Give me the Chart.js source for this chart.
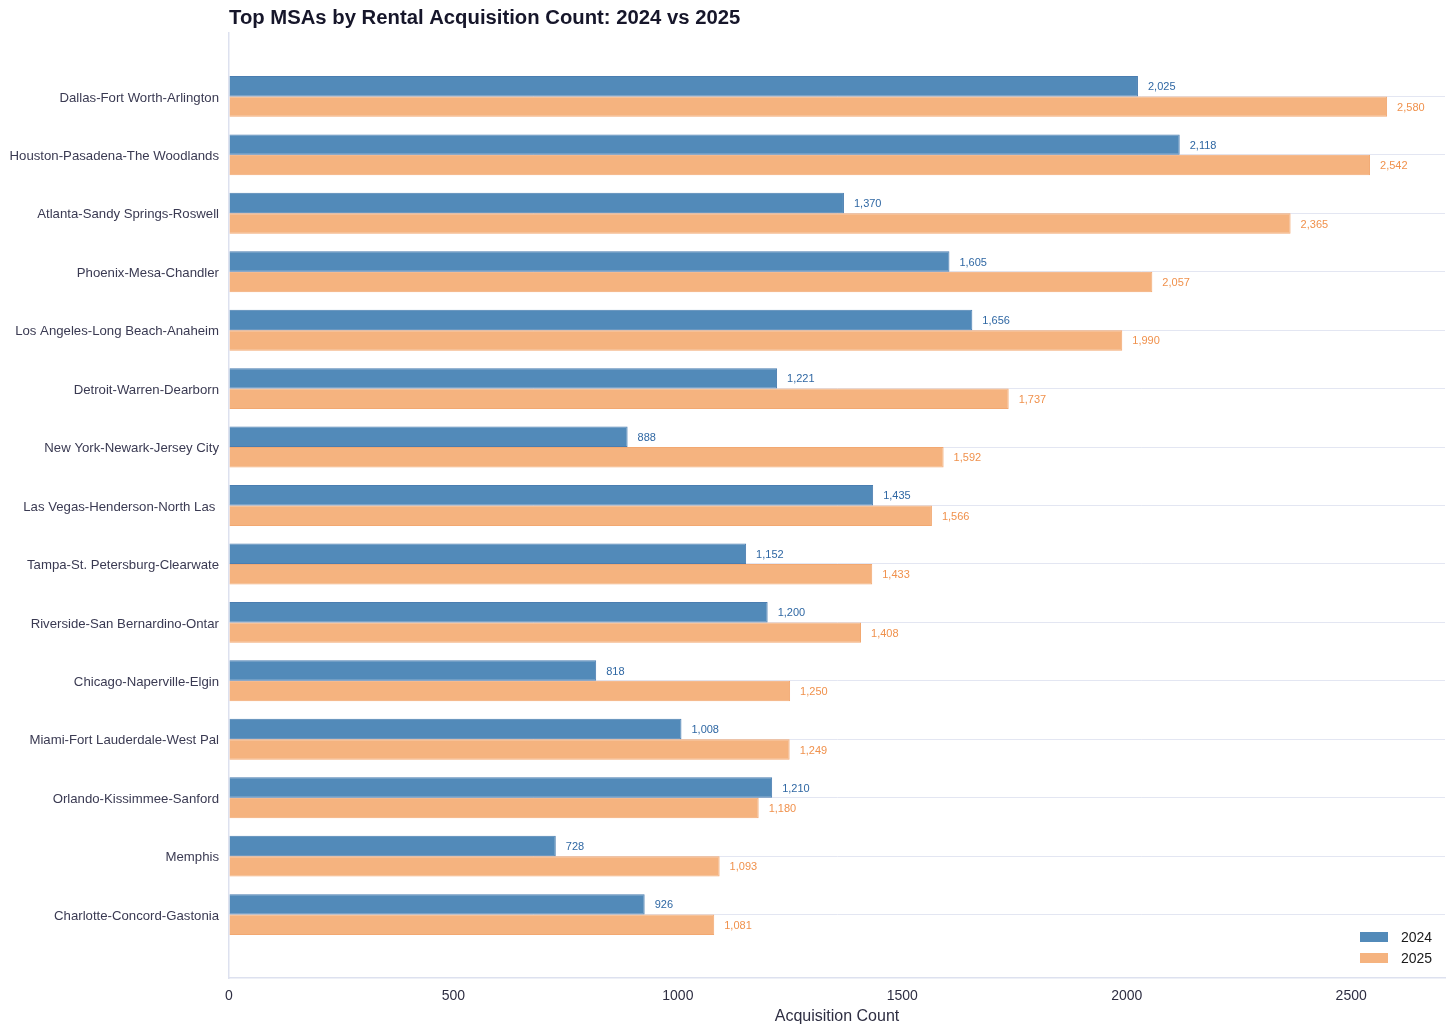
<!DOCTYPE html>
<html>
<head>
<meta charset="utf-8">
<script src="https://cdn.jsdelivr.net/npm/chart.js@4.4.1/dist/chart.umd.min.js"></script>
<style>
  html, body { margin: 0; padding: 0; background: #ffffff; }
  #wrap { width: 1456px; height: 1035px; }
</style>
</head>
<body>
<div id="wrap"><canvas id="chart_msas"></canvas></div>
<script>
const TITULO = "Top MSAs by Rental Acquisition Count: 2024 vs 2025";
const msas = [
  "Dallas-Fort Worth-Arlington",
  "Houston-Pasadena-The Woodlands",
  "Atlanta-Sandy Springs-Roswell",
  "Phoenix-Mesa-Chandler",
  "Los Angeles-Long Beach-Anaheim",
  "Detroit-Warren-Dearborn",
  "New York-Newark-Jersey City",
  "Las Vegas-Henderson-North Las ",
  "Tampa-St. Petersburg-Clearwate",
  "Riverside-San Bernardino-Ontar",
  "Chicago-Naperville-Elgin",
  "Miami-Fort Lauderdale-West Pal",
  "Orlando-Kissimmee-Sanford",
  "Memphis",
  "Charlotte-Concord-Gastonia",
];
const ventas2024 = [2025, 2118, 1370, 1605, 1656, 1221, 888, 1435, 1152, 1200, 818, 1008, 1210, 728, 926];
const ventas2025 = [2580, 2542, 2365, 2057, 1990, 1737, 1592, 1566, 1433, 1408, 1250, 1249, 1180, 1093, 1081];
const ticksX = [0, 500, 1000, 1500, 2000, 2500];

const AZUL = "rgba(82,138,185,1)";
const NARANJA = "rgba(245,179,127,1)";
const FUENTE = "'Liberation Sans', Arial, sans-serif";

function aPuntos(valores) {
  return valores.map(function (v, i) {
    return { x: v, y: i };
  });
}

function formatoNumero(valor) {
  return Number(valor).toLocaleString("en-US");
}

// titulo, etiquetas de valores y leyenda dibujadas a mano
const pluginExtras = {
  id: "extras",
  afterDatasetsDraw: function (chart) {
    const ctx = chart.ctx;
    const area = chart.chartArea;
    ctx.save();

    ctx.font = "bold 20.3px " + FUENTE;
    ctx.fillStyle = "#16162a";
    ctx.textAlign = "left";
    ctx.textBaseline = "middle";
    ctx.fillText(TITULO, area.left, 18);

    const coloresTexto = ["#2f67a3", "#f0914c"];
    ctx.font = "11px " + FUENTE;
    chart.data.datasets.forEach(function (ds, d) {
      let meta = chart.getDatasetMeta(d);
      ctx.fillStyle = coloresTexto[d];
      meta.data.forEach(function (el, i) {
        ctx.fillText(formatoNumero(ds.data[i].x), el.x + 10, el.y + 1);
      });
    });

    const items = [
      { texto: "2024", color: AZUL, y: 937 },
      { texto: "2025", color: NARANJA, y: 958 },
    ];
    ctx.font = "14px " + FUENTE;
    items.forEach(function (it) {
      ctx.fillStyle = it.color;
      ctx.fillRect(1360, it.y - 5, 28, 10);
      ctx.fillStyle = "#1a1a1a";
      ctx.fillText(it.texto, 1401, it.y + 1);
    });

    ctx.restore();
  },
};

let chartMsas = new Chart(document.getElementById("chart_msas"), {
  type: "bar",
  data: {
    datasets: [
      {
        label: "2024",
        data: aPuntos(ventas2024),
        backgroundColor: AZUL,
        borderColor: "#4a7db0",
        borderWidth: 1,
        barPercentage: 1,
        categoryPercentage: 0.7,
      },
      {
        label: "2025",
        data: aPuntos(ventas2025),
        backgroundColor: NARANJA,
        borderColor: "#f2a871",
        borderWidth: 1,
        barPercentage: 1,
        categoryPercentage: 0.7,
      },
    ],
  },
  options: {
    indexAxis: "y",
    responsive: true,
    maintainAspectRatio: false,
    animation: false,
    layout: { padding: { top: 33, right: 11, left: 0, bottom: 0 } },
    plugins: {
      legend: { display: false },
      tooltip: { enabled: false },
      title: { display: false },
    },
    scales: {
      x: {
        type: "linear",
        min: 0,
        max: 2709,
        afterBuildTicks: function (scale) {
          scale.ticks = ticksX.map(function (v) {
            return { value: v };
          });
        },
        ticks: {
          padding: 10,
          color: "#2e2e42",
          font: { family: FUENTE, size: 14 },
          callback: function (value) {
            return String(value);
          },
        },
        grid: { color: "rgba(0,0,0,0)", drawTicks: false },
        border: { display: true, color: "#dde1ef", width: 1.5 },
        title: {
          display: true,
          text: "Acquisition Count",
          color: "#2e2e42",
          font: { family: FUENTE, size: 16 },
          padding: { top: 4, bottom: 9 },
        },
        afterFit: function (scale) {
          scale.height = 57;
        },
      },
      y: {
        type: "linear",
        reverse: true,
        offset: false,
        min: -1.085,
        max: 15.085,
        afterBuildTicks: function (scale) {
          scale.ticks = msas.map(function (m, i) {
            return { value: i };
          });
        },
        ticks: {
          padding: 10,
          labelOffset: 1.5,
          color: "#3a3a52",
          font: { family: FUENTE, size: 13.2 },
          callback: function (value) {
            return msas[value] !== undefined ? msas[value] : "";
          },
        },
        grid: { offset: false, color: "#e3e6f2", lineWidth: 1, drawTicks: false },
        border: { display: true, color: "#dde1ef", width: 1.5 },
        afterFit: function (scale) {
          scale.width = 229;
        },
      },
    },
  },
  plugins: [pluginExtras],
});
</script>
</body>
</html>
